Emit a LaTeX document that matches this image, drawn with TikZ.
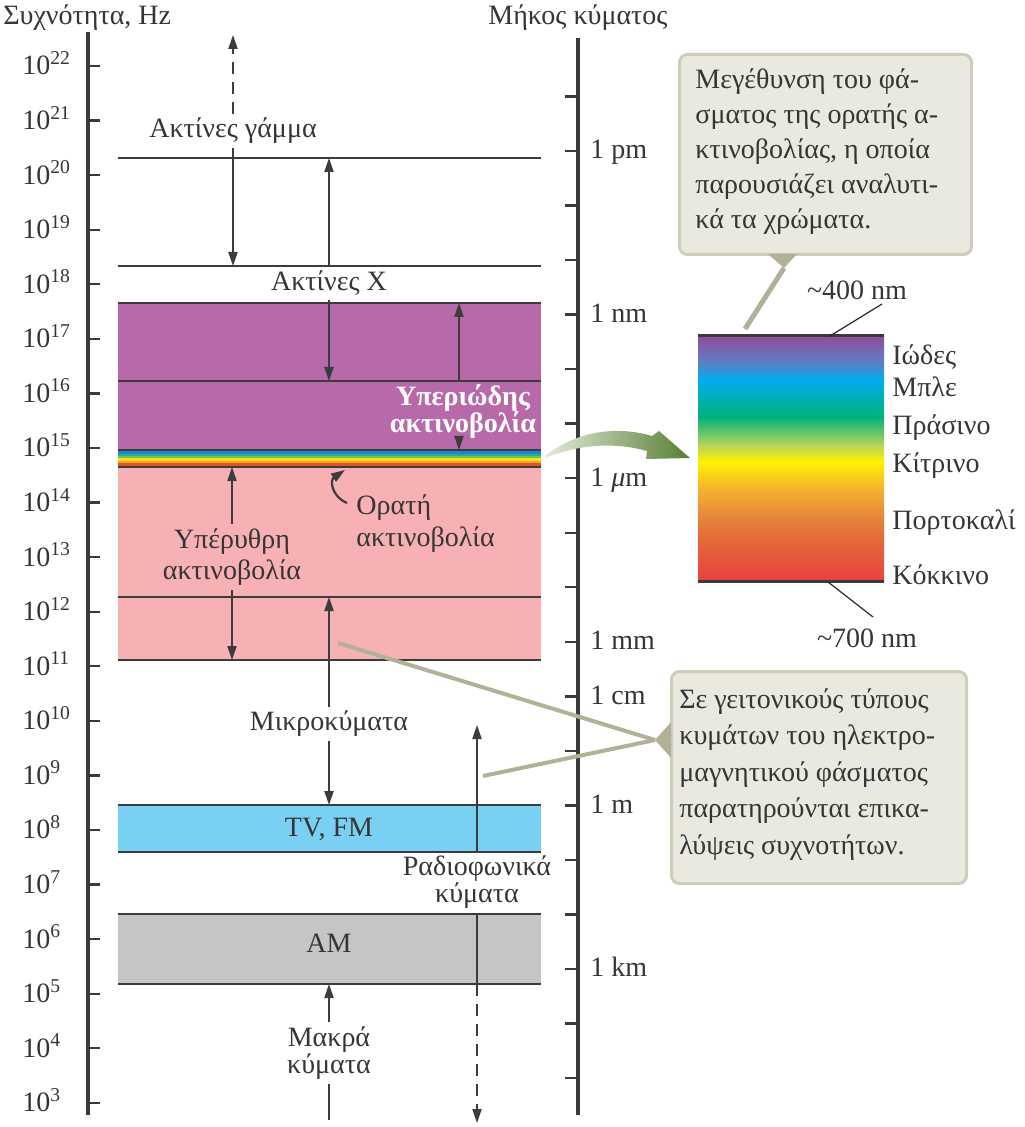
\documentclass[tikz,border=0pt]{standalone}
\usepackage{fontspec}
\setmainfont{Liberation Serif}
\usetikzlibrary{arrows.meta,calc}
\definecolor{txt}{HTML}{353535}
\definecolor{ln}{HTML}{3C3C3C}
\definecolor{ax}{HTML}{3A3A3A}
\definecolor{uvc}{HTML}{B769AA}
\definecolor{irc}{HTML}{F7B0B4}
\definecolor{tvc}{HTML}{7AD0F2}
\definecolor{amc}{HTML}{C4C5C7}
\definecolor{cfill}{HTML}{EAE9DF}
\definecolor{cbord}{HTML}{CFCDBA}
\definecolor{pcol}{HTML}{B2B097}
\definecolor{rb1}{HTML}{1B88C8}
\definecolor{rb2}{HTML}{22AAB0}
\definecolor{rb3}{HTML}{7CC242}
\definecolor{rb4}{HTML}{F4E11D}
\definecolor{rb5}{HTML}{F8A21D}
\definecolor{rb6}{HTML}{E0522B}
\definecolor{sred}{HTML}{E8403F}
\definecolor{sor1}{HTML}{E5693A}
\definecolor{sor2}{HTML}{E5823A}
\definecolor{sor3}{HTML}{F5B030}
\definecolor{syel}{HTML}{FFF200}
\definecolor{sygr}{HTML}{B5D55A}
\definecolor{sgrn}{HTML}{00B17A}
\definecolor{scya}{HTML}{00AEEF}
\definecolor{sblv}{HTML}{5C7FC2}
\definecolor{spur}{HTML}{8E4F9F}
\definecolor{gstart}{HTML}{E4EADA}
\definecolor{gend}{HTML}{557F33}
\pgfdeclareverticalshading{specshade}{100bp}{color(0bp)=(sred); color(25bp)=(sred); color(33.4bp)=(sor1); color(37.5bp)=(sor2); color(43.6bp)=(sor3); color(49.3bp)=(syel); color(52.8bp)=(sygr); color(58.5bp)=(sgrn); color(66bp)=(scya); color(69.7bp)=(sblv); color(74.6bp)=(spur); color(100bp)=(spur)}
\begin{document}
\begin{tikzpicture}[x=0.5pt,y=-0.5pt,
  every node/.style={text=txt},
  font=\fontsize{14}{15.5}\selectfont,
  bandline/.style={draw=ln, line width=1pt},
  rng/.style={draw=ln, line width=0.7pt, -{Triangle[length=7pt,width=4.6pt]}},
  rngdash/.style={rng, dash pattern=on 6pt off 4pt},
  plainln/.style={draw=ln, line width=0.7pt},
  lbl/.style={align=center, inner sep=2pt},
  axisln/.style={draw=ax, line width=2pt},
  tk/.style={draw=ax, line width=1.2pt},
  callbox/.style={draw=cbord, fill=cfill, rounded corners=4pt, line width=1.5pt},
  ptr/.style={fill=pcol},
  ptrline/.style={draw=pcol, line width=2pt},
  leader/.style={draw=black!85, line width=0.6pt}
]
\useasboundingbox (0,0) rectangle (1024,1127);

% ---- titles
\node[anchor=base west, inner sep=0] (tfreq) at (3,25) {Συχνότητα, Hz};
\node[anchor=base west, inner sep=0] (twave) at (488,25) {Μήκος κύματος};

% ---- bands
\fill[uvc] (118,303) rectangle (541,450);
\fill[irc] (118,467) rectangle (541,660);
\fill[tvc] (118,805) rectangle (541,852);
\fill[amc] (118,914) rectangle (541,984);
\fill[rb1] (118,451) rectangle (541,454);
\fill[rb2] (118,454) rectangle (541,456.5);
\fill[rb3] (118,456.5) rectangle (541,458.5);
\fill[rb4] (118,458.5) rectangle (541,461);
\fill[rb5] (118,461) rectangle (541,463.5);
\fill[rb6] (118,463.5) rectangle (541,466);
\foreach \yy in {158,266,303,381,597,660,805,852,914,984}{
  \draw[bandline] (118,\yy) -- (541,\yy);
}
\draw[draw=ln, line width=1.4pt] (118,450) -- (541,450);
\draw[draw=ln, line width=1.4pt] (118,467) -- (541,467);

% ---- axes
\draw[axisln] (88,32) -- (88,1115);
\draw[axisln] (578,38) -- (578,1115);
\foreach \n in {3,...,22}{
  \pgfmathsetmacro\yy{66+(22-\n)*54.57}
  \draw[tk] (88,\yy) -- (100,\yy);
  \node[anchor=base west, inner sep=0] (ll\n) at (22,\yy+9) {10\textsuperscript{\n}};
}
\foreach \k in {-1,...,17}{
  \pgfmathsetmacro\yy{151+\k*54.53}
  \draw[tk] (565,\yy) -- (578,\yy);
}
\node[anchor=base west, inner sep=0] (rpm) at (590,{151+0*54.53+8}) {1 pm};
\node[anchor=base west, inner sep=0] (rnm) at (590,{151+3*54.53+8}) {1 nm};
\node[anchor=base west, inner sep=0] (rum) at (590,{151+6*54.53+8}) {1 \textit{μ}m};
\node[anchor=base west, inner sep=0] (rmm) at (590,{151+9*54.53+8}) {1 mm};
\node[anchor=base west, inner sep=0] (rcm) at (590,{151+10*54.53+8}) {1 cm};
\node[anchor=base west, inner sep=0] (rm) at (590,{151+12*54.53+8}) {1 m};
\node[anchor=base west, inner sep=0] (rkm) at (590,{151+15*54.53+8}) {1 km};

% ---- range labels and arrows
\node[lbl] (gam) at (233,131) {Ακτίνες γάμμα};
\coordinate (gtop) at (233,35);
\coordinate (gbot) at (233,266);
\draw[rngdash] (gam.north) -- (gtop);
\draw[rng] (gam.south) -- (gbot);

\node[lbl] (xr) at (329,283) {Ακτίνες X};
\coordinate (xtop) at (329,158);
\coordinate (xbot) at (329,381);
\draw[rng] (xr.north) -- (xtop);
\draw[rng] (xr.south) -- (xbot);

\node[lbl, text=white, font=\fontsize{14}{13.5}\selectfont\bfseries] (uv) at (463,412) {Υπεριώδης\\ακτινοβολία};
\coordinate (uvtop) at (459,303);
\coordinate (uvbot) at (459,450);
\draw[rng] (uv.north -| uvtop) -- (uvtop);
\draw[rng] (uv.south -| uvbot) -- (uvbot);

\node[lbl] (ir) at (232,557) {Υπέρυθρη\\ακτινοβολία};
\coordinate (irtop) at (232,467);
\coordinate (irbot) at (232,660);
\draw[rng] (ir.north) -- (irtop);
\draw[rng] (ir.south) -- (irbot);

\node[lbl, align=left, anchor=west, font=\fontsize{14}{16}\selectfont] (vis) at (352,524) {Ορατή\\ακτινοβολία};
\coordinate (vstart) at (347,503);
\coordinate (vend) at (345,470);
\draw[rng, line width=1.1pt] (vstart) .. controls (331,496) and (330,480) .. (vend);

\node[lbl] (mw) at (329,724) {Μικροκύματα};
\coordinate (mwtop) at (329,597);
\coordinate (mwbot) at (329,805);
\draw[rng] (mw.north) -- (mwtop);
\draw[rng] (mw.south) -- (mwbot);

\node[lbl] (tv) at (329,829) {TV, FM};
\node[lbl] (am) at (329,943) {AM};

\node[lbl, font=\fontsize{14}{13.5}\selectfont] (rd) at (477,882) {Ραδιοφωνικά\\κύματα};
\coordinate (rdtop) at (477,725);
\coordinate (rdmid) at (477,984);
\coordinate (rdbot) at (477,1123);
\draw[rng] (rd.north) -- (rdtop);
\draw[plainln] (rd.south) -- (rdmid);
\draw[rngdash] (rdmid) -- (rdbot);

\node[lbl, font=\fontsize{14}{13.5}\selectfont] (lw) at (329,1053) {Μακρά\\κύματα};
\coordinate (lwtop) at (329,984);
\coordinate (lwbot) at (329,1120);
\draw[rng] (lw.north) -- (lwtop);
\draw[plainln] (lw.south) -- (lwbot);

% ---- green arrow
\shade[left color=gstart, right color=gend]
  (545,456) .. controls (575,432) and (615,425) .. (652,436)
  -- (659,431) -- (690,458) -- (646,459) -- (647,451)
  .. controls (615,442) and (580,444) .. (545,458) -- cycle;

% ---- spectrum
\shade[shading=specshade] (698,336) rectangle (884,581);
\node[inner sep=0, minimum width=93pt, minimum height=122.5pt] (spec) at (791,458.5) {};
\draw[draw=ax, line width=1.5pt] (spec.north west) -- (spec.north east);
\draw[draw=ax, line width=1.5pt] (spec.south west) -- (spec.south east);
\node[anchor=mid west, inner sep=0] (cv) at (892,360) {Ιώδες};
\node[anchor=mid west, inner sep=0] (cb) at (892,392) {Μπλε};
\node[anchor=mid west, inner sep=0] (cg) at (892,430) {Πράσινο};
\node[anchor=mid west, inner sep=0] (cy) at (892,468) {Κίτρινο};
\node[anchor=mid west, inner sep=0] (co) at (892,525) {Πορτοκαλί};
\node[anchor=mid west, inner sep=0] (cr) at (892,580) {Κόκκινο};
\node[inner sep=1pt] (n400) at (857,290) {\textasciitilde400 nm};
\node[inner sep=1pt] (n700) at (867,638) {\textasciitilde700 nm};
\coordinate (l400) at (830,336);
\coordinate (l700) at (828,582);
\draw[leader] (882,304) -- (l400);
\draw[leader] (l700) -- (873,617);

% ---- callout 1
\node[callbox, minimum width=146pt, minimum height=100pt, anchor=north west] (c1) at (678,53) {};
\node[anchor=north west, align=left, inner sep=0, font=\fontsize{14}{17.5}\selectfont] (c1t) at (695,68) {Μεγέθυνση του φά-\\σματος της ορατής α-\\κτινοβολίας, η οποία\\παρουσιάζει αναλυτι-\\κά τα χρώματα.};
\coordinate (p1a) at (768,254);
\coordinate (p1b) at (797,254);
\coordinate (p1c) at (784,268);
\coordinate (p1end) at (745,329);
\fill[ptr] (p1a) -- (p1b) -- (p1c) -- cycle;
\draw[ptrline, line width=2.5pt] (p1c) -- (p1end);

% ---- callout 2
\node[callbox, minimum width=147.5pt, minimum height=106pt, anchor=north west] (c2) at (670,670) {};
\node[anchor=north west, align=left, inner sep=0, font=\fontsize{14}{18.3}\selectfont] (c2t) at (679,688) {Σε γειτονικούς τύπους\\κυμάτων του ηλεκτρο-\\μαγνητικού φάσματος\\παρατηρούνται επικα-\\λύψεις συχνοτήτων.};
\coordinate (p2a) at (671,722);
\coordinate (p2b) at (671,758);
\coordinate (p2tip) at (655,740);
\coordinate (p2e1) at (338,643);
\coordinate (p2e2) at (483,776);
\fill[ptr] (p2a) -- (p2b) -- (p2tip) -- cycle;
\draw[ptrline] (p2tip) -- (p2e1);
\draw[ptrline] (p2tip) -- (p2e2);
\end{tikzpicture}
\end{document}
